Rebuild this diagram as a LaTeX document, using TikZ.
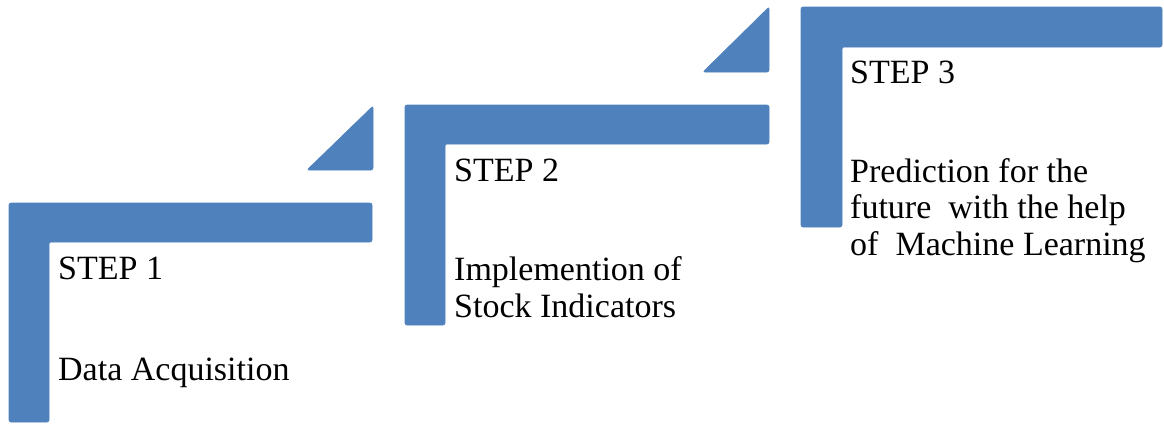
\documentclass[tikz,border=0pt]{standalone}
\usepackage{fontspec}
\setmainfont{Liberation Serif}
\definecolor{stepblue}{HTML}{4F81BD}
\tikzset{
  stepbar/.style={fill=stepblue, draw=stepblue, line width=0.6pt, rounded corners=2pt},
  steptext/.style={anchor=base west, inner sep=0pt, font=\fontsize{34}{37}\selectfont, text=black}
}
\begin{document}
\begin{tikzpicture}[x=1pt,y=-1pt]
\useasboundingbox (0,0) rectangle (1164,423);

% step 1 bracket
\path[stepbar] (9,203) -- (372,203) -- (372,242) -- (49,242) -- (49,422) -- (9,422) -- cycle;
% arrow head between step 1 and step 2
\path[stepbar] (373,106) -- (373,170) -- (307,170) -- cycle;
% step 2 bracket
\path[stepbar] (405,105) -- (769,105) -- (769,144) -- (445,144) -- (445,325) -- (405,325) -- cycle;
% arrow head between step 2 and step 3
\path[stepbar] (769,7) -- (769,72) -- (703,72) -- cycle;
% step 3 bracket
\path[stepbar] (801,7) -- (1162,7) -- (1162,47) -- (842,47) -- (842,227) -- (801,227) -- cycle;

% labels
\node[steptext] (s1title) at (58,279) {STEP 1};
\node[steptext] (s1body) at (58,380) {Data Acquisition};

\node[steptext] (s2title) at (454,181) {STEP 2};
\node[steptext] (s2bodya) at (454,280) {Implemention of};
\node[steptext] (s2bodyb) at (454,317) {Stock Indicators};

\node[steptext] (s3title) at (850,83) {STEP 3};
\node[steptext] (s3bodya) at (850,182) {Prediction for the};
\node[steptext] (s3bodyb) at (850,218) {future~ with the help};
\node[steptext] (s3bodyc) at (850,255) {of~ Machine Learning};
\end{tikzpicture}
\end{document}
